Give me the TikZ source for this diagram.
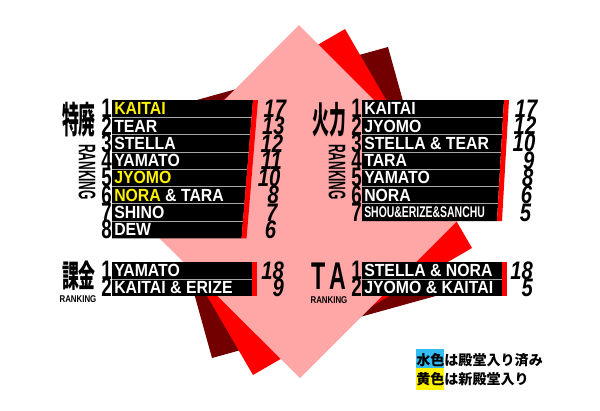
\documentclass[tikz,border=0pt]{standalone}
\usepackage{fontspec}
\setmainfont{Liberation Sans}
\newfontfamily\jpfont{Noto Sans CJK JP}
\usetikzlibrary{math}

\tikzset{
  rankname/.style={anchor=west, text=white, font=\bfseries\fontsize{12.5}{12.5}\selectfont, inner sep=0pt, xscale=0.9},
  ranknum/.style={anchor=east, font=\bfseries\fontsize{19}{19}\selectfont, inner sep=0pt, xscale=0.7},
  rankscore/.style={anchor=east, font=\bfseries\itshape\fontsize{18}{18}\selectfont, inner sep=0pt, xscale=0.8},
  ranktitle/.style={font=\jpfont\bfseries\fontsize{20}{20}\selectfont, inner sep=0pt},
  ranksub/.style={font=\bfseries\fontsize{7}{7}\selectfont, inner sep=0pt, xscale=0.8},
  rankside/.style={font=\bfseries\fontsize{17}{17}\selectfont, inner sep=0pt, rotate=-90},
  sepline/.style={draw=gray!70, line width=0.5pt}
}

\begin{document}
\begin{tikzpicture}[x=0.025cm, y=-0.025cm]
    \useasboundingbox (0,0) rectangle (600,410);

    % back squares
    \fill[red!45!black] (388,47) -- (455.5,290.5) -- (212,358) -- (144.5,114.5) -- cycle;
    \fill[red] (345,29) -- (472,248) -- (253,375) -- (126,156) -- cycle;
    \fill[red!35!white] (299,25) -- (476,202) -- (300,378) -- (123,202) -- cycle;

    % left top panel
    \tikzmath{\xa = 112; \xb = 253; \ya = 100; \p = 17.3; \n = 8; \sl = 0.0826;};
    \tikzmath{\yb = \ya + \n*\p; \xc = \xb - \sl*\n*\p; \xd = \xb + 5; \xe = \xc + 5;};
    \fill[black] (\xa,\ya) -- (\xb,\ya) -- (\xc,\yb) -- (\xa,\yb) -- cycle;
    \fill[red] (\xb,\ya) -- (\xd,\ya) -- (\xe,\yb) -- (\xc,\yb) -- cycle;
    \foreach \name/\score [count=\i] in {{\textcolor{yellow}{KAITAI}}/17, TEAR/13, STELLA/12, YAMATO/11, {\textcolor{yellow}{JYOMO}}/10, {\textcolor{yellow}{NORA} \& TARA}/8, SHINO/7, DEW/6}{
      \tikzmath{\t = \ya + (\i-1)*\p; \m = \t + \p/2; \r = \xb - \sl*(\i-0.5)*\p + 34; \e = \xb - \sl*(\i-1)*\p; \w = \xa + 2;};
      \ifnum\i>1 \draw[sepline] (\xa,\t) -- (\e,\t); \fi
      \node[ranknum] (tn\i) at (\xa,\m) {\i};
      \node[rankname] (tw\i) at (\w,\m) {\name};
      \node[rankscore] (ts\i) at (\r,\m) {\score};
    }
    \node[ranktitle, anchor=north] (tt) at (79,102) {\scalebox{0.6}[1.3]{特廃}};
    \node[rankside] (tr) at (87,172) {\scalebox{0.5}[1]{RANKING}};

    % right top panel
    \tikzmath{\xa = 362; \xb = 504; \ya = 100; \p = 17.3; \n = 7; \sl = 0.058;};
    \tikzmath{\yb = \ya + \n*\p; \xc = \xb - \sl*\n*\p; \xd = \xb + 5; \xe = \xc + 5;};
    \fill[black] (\xa,\ya) -- (\xb,\ya) -- (\xc,\yb) -- (\xa,\yb) -- cycle;
    \fill[red] (\xb,\ya) -- (\xd,\ya) -- (\xe,\yb) -- (\xc,\yb) -- cycle;
    \foreach \name/\score [count=\i] in {KAITAI/17, JYOMO/12, STELLA \& TEAR/10, TARA/9, YAMATO/8, NORA/6, {\scalebox{0.75}[1]{\fontsize{11}{11}\selectfont SHOU\&ERIZE\&SANCHU}}/5}{
      \tikzmath{\t = \ya + (\i-1)*\p; \m = \t + \p/2; \r = \xb - \sl*(\i-0.5)*\p + 34; \e = \xb - \sl*(\i-1)*\p; \w = \xa + 2;};
      \ifnum\i>1 \draw[sepline] (\xa,\t) -- (\e,\t); \fi
      \node[ranknum] (kn\i) at (\xa,\m) {\i};
      \node[rankname] (kw\i) at (\w,\m) {\name};
      \node[rankscore] (ks\i) at (\r,\m) {\score};
    }
    \node[ranktitle, anchor=north] (kt) at (329,102) {\scalebox{0.6}[1.3]{火力}};
    \node[rankside] (kr) at (337,172) {\scalebox{0.5}[1]{RANKING}};

    % left bottom panel
    \tikzmath{\xa = 112; \xb = 252; \ya = 262; \p = 17; \yb = \ya + 2*\p; \yc = \ya + \p; \xd = \xb + 5;};
    \fill[black] (\xa,\ya) rectangle (\xb,\yb);
    \fill[red] (\xb,\ya) rectangle (\xd,\yb);
    \draw[sepline] (\xa,\yc) -- (\xb,\yc);
    \foreach \name/\score [count=\i] in {YAMATO/18, KAITAI \& ERIZE/9}{
      \tikzmath{\m = \ya + (\i-0.5)*\p; \r = \xb + 32; \w = \xa + 2;};
      \node[ranknum] (gn\i) at (\xa,\m) {\i};
      \node[rankname] (gw\i) at (\w,\m) {\name};
      \node[rankscore] (gs\i) at (\r,\m) {\score};
    }
    \node[ranktitle, anchor=north] (gt) at (79,261) {\scalebox{0.6}[1.1]{課金}};
    \node[ranksub] (gr) at (78,299) {RANKING};

    % right bottom panel
    \tikzmath{\xa = 362; \xb = 502; \ya = 262; \p = 17; \yb = \ya + 2*\p; \yc = \ya + \p; \xd = \xb + 5;};
    \fill[black] (\xa,\ya) rectangle (\xb,\yb);
    \fill[red] (\xb,\ya) rectangle (\xd,\yb);
    \draw[sepline] (\xa,\yc) -- (\xb,\yc);
    \foreach \name/\score [count=\i] in {STELLA \& NORA/18, JYOMO \& KAITAI/5}{
      \tikzmath{\m = \ya + (\i-0.5)*\p; \r = \xb + 31; \w = \xa + 2;};
      \node[ranknum] (an\i) at (\xa,\m) {\i};
      \node[rankname] (aw\i) at (\w,\m) {\name};
      \node[rankscore] (as\i) at (\r,\m) {\score};
    }
    \node[font=\bfseries\fontsize{22}{22}\selectfont, inner sep=0pt] (at) at (329,276) {\scalebox{0.75}[1.25]{T\,A}};
    \node[ranksub] (ar) at (329,300) {RANKING};

    % legend
    \node[anchor=west, inner sep=0pt, font=\jpfont\bfseries\fontsize{10}{10}\selectfont] (lg1) at (416,360)
      {\colorbox{cyan!80!white}{\kern-3pt 水色\kern-3pt}は殿堂入り済み};
    \node[anchor=west, inner sep=0pt, font=\jpfont\bfseries\fontsize{10}{10}\selectfont] (lg2) at (416,379)
      {\colorbox{yellow}{\kern-3pt 黄色\kern-3pt}は新殿堂入り};
\end{tikzpicture}
\end{document}
